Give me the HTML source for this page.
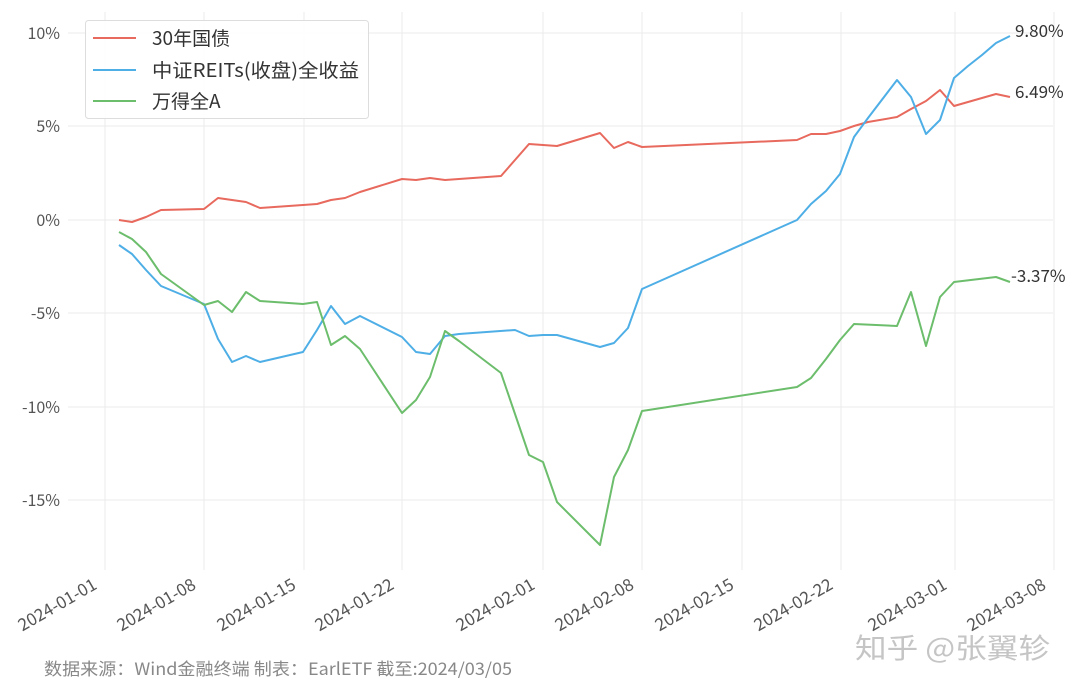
<!DOCTYPE html>
<html><head><meta charset="utf-8"><style>
body{margin:0;background:#fff;width:1080px;height:690px;overflow:hidden}
</style></head><body>
<svg width="1080" height="690" xmlns="http://www.w3.org/2000/svg" font-family="Noto Sans CJK SC, Liberation Sans, sans-serif">
<g stroke="#ebebeb" stroke-width="1">
<line x1="68" y1="33" x2="1053" y2="33"/><line x1="68" y1="126" x2="1053" y2="126"/><line x1="68" y1="220" x2="1053" y2="220"/><line x1="68" y1="313" x2="1053" y2="313"/><line x1="68" y1="407" x2="1053" y2="407"/><line x1="68" y1="500" x2="1053" y2="500"/>
<line x1="105" y1="12" x2="105" y2="570"/><line x1="204" y1="12" x2="204" y2="570"/><line x1="304" y1="12" x2="304" y2="570"/><line x1="402" y1="12" x2="402" y2="570"/><line x1="543" y1="12" x2="543" y2="570"/><line x1="642" y1="12" x2="642" y2="570"/><line x1="742" y1="12" x2="742" y2="570"/><line x1="841" y1="12" x2="841" y2="570"/><line x1="955" y1="12" x2="955" y2="570"/><line x1="1054" y1="12" x2="1054" y2="570"/>
</g>
<g font-size="16" fill="#555" text-anchor="end">
<text x="60" y="39">10%</text><text x="60" y="132">5%</text><text x="60" y="226">0%</text><text x="60" y="319">-5%</text><text x="60" y="413">-10%</text><text x="60" y="506">-15%</text>
</g>
<g font-size="17" fill="#555" text-anchor="end">
<text transform="translate(98,588) rotate(-30)">2024-01-01</text>
<text transform="translate(197,588) rotate(-30)">2024-01-08</text>
<text transform="translate(297,588) rotate(-30)">2024-01-15</text>
<text transform="translate(395,588) rotate(-30)">2024-01-22</text>
<text transform="translate(536,588) rotate(-30)">2024-02-01</text>
<text transform="translate(635,588) rotate(-30)">2024-02-08</text>
<text transform="translate(735,588) rotate(-30)">2024-02-15</text>
<text transform="translate(834,588) rotate(-30)">2024-02-22</text>
<text transform="translate(948,588) rotate(-30)">2024-03-01</text>
<text transform="translate(1047,588) rotate(-30)">2024-03-08</text>
</g>
<g fill="none" stroke-width="2" stroke-linejoin="round">
<polyline stroke="#e8695d" points="119,220 132,222 146,217 161,210 204,209 218,198 232,200 246,202 260,208 303,205 317,204 331,200 345,198 360,192 402,179 416,180 430,178 445,180 501,176 529,144 543,145 557,146 600,133 614,148 628,142 642,147 797,140 811,134 826,134 840,131 854,126 868,122 897,117 911,109 926,101 940,90 954,106 996,94 1010,97"/>
<polyline stroke="#4eaee6" points="119,245 132,254 146,270 161,286 204,304 218,339 232,362 246,356 260,362 303,352 317,330 331,306 345,324 360,316 402,337 416,352 430,354 445,336 459,334 515,330 529,336 543,335 557,335 600,347 614,343 628,328 642,289 797,220 811,204 826,191 840,174 854,137 868,118 897,80 911,97 926,134 940,120 954,78 968,66 982,55 996,43 1010,36"/>
<polyline stroke="#6cbd6c" points="119,232 132,239 146,252 161,274 204,305 218,301 232,312 246,292 260,301 303,304 317,302 331,345 345,336 360,349 402,413 416,400 430,377 445,331 459,341 501,373 529,455 543,462 557,502 600,545 614,477 628,450 642,411 797,387 811,378 826,359 840,340 854,324 897,326 911,292 926,346 940,297 954,282 996,277 1010,282"/>
</g>
<g font-size="17" fill="#333">
<text x="1015" y="37">9.80%</text><text x="1015" y="98">6.49%</text><text x="1011" y="282">-3.37%</text>
</g>
<rect x="85.5" y="20.5" width="283" height="98" rx="3" fill="#fff" fill-opacity="0.9" stroke="#ddd"/>
<line x1="93" y1="38" x2="136" y2="38" stroke="#e8695d" stroke-width="2"/>
<line x1="93" y1="70" x2="136" y2="70" stroke="#4eaee6" stroke-width="2"/>
<line x1="93" y1="101" x2="136" y2="101" stroke="#6cbd6c" stroke-width="2"/>
<g font-size="19" fill="#333">
<text x="152" y="45">30年国债</text><text x="152" y="77" textLength="207" lengthAdjust="spacingAndGlyphs">中证REITs(收盘)全收益</text><text x="152" y="108">万得全A</text>
</g>
<text x="44" y="675" font-size="17" fill="#888" textLength="468" lengthAdjust="spacingAndGlyphs">数据来源：Wind金融终端 制表：EarlETF 截至:2024/03/05</text>
<text x="855" y="658" font-size="28" fill="#bbb" fill-opacity="0.85" textLength="195" lengthAdjust="spacingAndGlyphs">知乎 @张翼轸</text>
</svg>
</body></html>
